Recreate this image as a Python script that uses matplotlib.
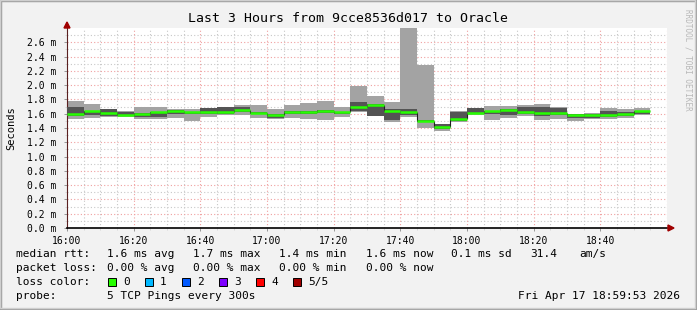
import numpy as np
import matplotlib.pyplot as plt
from matplotlib.patches import Rectangle, Polygon

# 5 pings per 5 minute bin, sorted: min, 2nd, median, 4th, max (ms)
bin_start = np.arange(0, 175, 5)   # minutes after 16:00
p_min = [1.53, 1.54, 1.55, 1.55, 1.53, 1.53, 1.545, 1.50, 1.56, 1.58,
         1.58, 1.54, 1.52, 1.545, 1.52, 1.51, 1.56, 1.625, 1.565, 1.485,
         1.56, 1.40, 1.355, 1.485, 1.58, 1.51, 1.545, 1.57, 1.51, 1.52,
         1.50, 1.52, 1.52, 1.54, 1.585]
p_lo = [1.57, 1.58, 1.57, 1.57, 1.55, 1.555, 1.60, 1.59, 1.59, 1.60,
        1.62, 1.59, 1.54, 1.60, 1.60, 1.61, 1.60, 1.635, 1.575, 1.51,
        1.58, 1.48, 1.38, 1.50, 1.59, 1.60, 1.58, 1.59, 1.57, 1.58,
        1.54, 1.535, 1.555, 1.57, 1.59]
p_med = [1.60, 1.633, 1.61, 1.585, 1.60, 1.62, 1.643, 1.62, 1.62, 1.62,
         1.65, 1.61, 1.585, 1.625, 1.623, 1.64, 1.62, 1.70, 1.725, 1.64,
         1.62, 1.495, 1.41, 1.525, 1.61, 1.635, 1.647, 1.63, 1.61, 1.615,
         1.58, 1.58, 1.585, 1.595, 1.64]
p_hi = [1.69, 1.64, 1.665, 1.62, 1.61, 1.62, 1.65, 1.63, 1.68, 1.69,
        1.69, 1.63, 1.60, 1.64, 1.64, 1.65, 1.63, 1.76, 1.73, 1.66,
        1.66, 1.51, 1.455, 1.63, 1.68, 1.64, 1.66, 1.70, 1.70, 1.68,
        1.595, 1.60, 1.645, 1.62, 1.645]
p_max = [1.78, 1.73, 1.67, 1.64, 1.69, 1.69, 1.67, 1.67, 1.68, 1.69,
         1.72, 1.72, 1.67, 1.72, 1.755, 1.78, 1.70, 1.985, 1.855, 1.77,
         2.85, 2.285, 1.46, 1.635, 1.685, 1.715, 1.703, 1.72, 1.73, 1.69,
         1.60, 1.61, 1.68, 1.66, 1.68]

x_ticks = [0, 20, 40, 60, 80, 100, 120, 140, 160]
x_labels = ['16:00', '16:20', '16:40', '17:00', '17:20', '17:40', '18:00', '18:20', '18:40']
y_ticks = np.arange(0, 2.61, 0.2)

loss_labels = ['0', '1', '2', '3', '4', '5/5']
loss_colors = ['#26ff00', '#00b8ff', '#0059ff', '#7e00ff', '#ff0000', '#a10000']

W, H = 697, 310
plt.rcParams['font.family'] = 'DejaVu Sans Mono'
fig = plt.figure(figsize=(W / 100, H / 100), dpi=100, facecolor='#f2f2f2')

# frame
fig.patches.append(Rectangle((0, 0), 1, 1, transform=fig.transFigure, fill=False,
                             edgecolor='#9e9e9e', lw=2.5))
fig.patches.append(Rectangle((0, 2 / H), 1 - 2 / W, 1 - 2 / H, transform=fig.transFigure,
                             fill=False, edgecolor='#cfcfcf', lw=1))

def px(x, y):
    return x / W, 1 - y / H

L, R, T, B = 67, 667, 28, 228
ax = fig.add_axes([L / W, 1 - B / H, (R - L) / W, (B - T) / H])
ax.set_facecolor('white')
ax.set_xlim(0, 180)
ax.set_ylim(0, 2.8)

# grid
for v in np.arange(5, 180, 5):
    if v % 20:
        ax.axvline(v, color='#c8c8c8', lw=0.8, ls=(0, (1, 2)), zorder=0)
for v in np.arange(0.1, 2.8, 0.1):
    if round(v * 10) % 2:
        ax.axhline(v, color='#c8c8c8', lw=0.8, ls=(0, (1, 2)), zorder=0)
for v in x_ticks[1:] + [180]:
    ax.axvline(v, color='#f0a0a0', lw=0.8, ls=(0, (1, 2)), zorder=0)
for v in y_ticks[1:]:
    ax.axhline(v, color='#f0a0a0', lw=0.8, ls=(0, (1, 2)), zorder=0)

# smoke
for i, t in enumerate(bin_start):
    ax.fill_between([t, t + 5], p_min[i], p_max[i], color='#a3a3a3', lw=0, zorder=2)
    ax.fill_between([t, t + 5], p_lo[i], p_hi[i], color='#545454', lw=0, zorder=3)

# median
ax.hlines(p_med, bin_start, bin_start + 5, color=loss_colors[0], lw=1.8, zorder=5)
ax.vlines(bin_start[1:], p_med[:-1], p_med[1:], color='#202020', lw=0.8, zorder=4)

ax.set_xticks(x_ticks)
ax.set_xticklabels(x_labels)
ax.set_xticks(np.arange(0, 180, 5), minor=True)
ax.set_yticks(y_ticks)
ax.set_yticklabels(['%.1f m' % v for v in y_ticks])
ax.set_yticks(np.arange(0, 2.8, 0.1), minor=True)
ax.tick_params(labelsize=7, length=2, width=0.6, color='#888888', pad=4)
ax.tick_params(axis='y', pad=6)
ax.tick_params(which='minor', length=1.5, width=0.5, color='#cccccc')
for s in ['top', 'right']:
    ax.spines[s].set_visible(False)
ax.spines['left'].set_color('#5a2020')
ax.spines['left'].set_linewidth(0.8)
ax.spines['bottom'].set_color('black')
ax.spines['bottom'].set_linewidth(1.2)

# axis arrows
fig.patches.append(Polygon([px(668, 225), px(668, 231), px(674, 228)], closed=True,
                           transform=fig.transFigure, color='#a00000'))
fig.patches.append(Polygon([px(64, 28), px(70, 28), px(67, 22)], closed=True,
                           transform=fig.transFigure, color='#a00000'))

fig.text(*px(348, 19), 'Last 3 Hours from 9cce8536d017 to Oracle', ha='center', va='center',
         fontsize=9.5)
fig.text(*px(11, 128), 'Seconds', rotation=90, ha='center', va='center', fontsize=7.5)
fig.text(*px(688, 60), 'RRDTOOL / TOBI OETIKER', rotation=-90, ha='center', va='center',
         fontsize=5.5, color='#b8b8b8')

fs = 8
rows = [
    (254, [(16, 'median rtt:'), (107, '1.6 ms avg'), (193, '1.7 ms max'), (279, '1.4 ms min'),
           (366, '1.6 ms now'), (451, '0.1 ms sd'), (530, '31.4'), (579, 'am/s')]),
    (268, [(16, 'packet loss:'), (107, '0.00 % avg'), (193, '0.00 % max'), (279, '0.00 % min'),
           (366, '0.00 % now')]),
    (282, [(16, 'loss color:')]),
    (296, [(16, 'probe:'), (107, '5 TCP Pings every 300s')]),
]
for y, items in rows:
    for x, s in items:
        fig.text(*px(x, y), s, ha='left', va='center', fontsize=fs)
fig.text(*px(680, 296), 'Fri Apr 17 18:59:53 2026', ha='right', va='center', fontsize=fs)

for k, (lab, col) in enumerate(zip(loss_labels, loss_colors)):
    bx = 108 + 37 * k
    fig.patches.append(Rectangle(px(bx, 286), 8 / W, 8 / H, transform=fig.transFigure,
                                 facecolor=col, edgecolor='black', lw=0.7))
    fig.text(*px(bx + 15, 282), lab, ha='left', va='center', fontsize=fs)

fig.savefig('out.png', dpi=100, facecolor=fig.get_facecolor())
